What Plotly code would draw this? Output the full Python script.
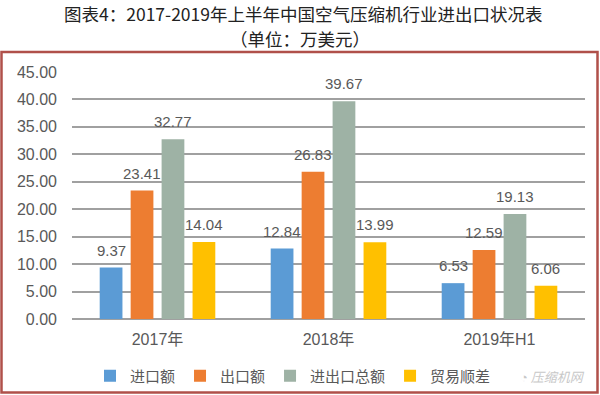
import plotly.graph_objects as go

categories = ["2017年", "2018年", "2019年H1"]
series_names = ["进口额", "出口额", "进出口总额", "贸易顺差"]
import_vals = [9.37, 12.84, 6.53]
export_vals = [23.41, 26.83, 12.59]
total_vals = [32.77, 39.67, 19.13]
surplus_vals = [14.04, 13.99, 6.06]
y_ticks = [0, 5, 10, 15, 20, 25, 30, 35, 40, 45]

series_values = [import_vals, export_vals, total_vals, surplus_vals]
colors = ["#5B9BD5", "#ED7D31", "#9EB2A5", "#FFC000"]

FONT = "Liberation Sans, Noto Sans CJK SC, sans-serif"
TXT = "#595959"

slot = 0.181
bar_w = 0.133
x_idx = list(range(len(categories)))

W, H = 600, 395
ML, MR, MT, MB = 72, 15, 72, 76
plot_h = H - MT - MB
plot_w = W - ML - MR

def py(pix):
    return (H - MB - pix) / plot_h

def px(pix):
    return (pix - ML) / plot_w

fig = go.Figure()
annotations = []
for i, (name, vals, col) in enumerate(zip(series_names, series_values, colors)):
    off = -2 * slot + (slot - bar_w) / 2 + i * slot
    fig.add_trace(go.Bar(
        x=x_idx, y=vals, name=name, marker=dict(color=col, line=dict(width=0)),
        offset=off, width=bar_w,
    ))
    for xi, v in zip(x_idx, vals):
        annotations.append(dict(
            x=xi + off + bar_w / 2, y=v, xref="x", yref="y", text=f"{v:.2f}",
            showarrow=False, yanchor="bottom", yshift=7,
            font=dict(family=FONT, size=15, color=TXT),
        ))

fig.update_layout(
    width=W, height=H,
    margin=dict(l=ML, r=MR, t=MT, b=MB, autoexpand=False),
    paper_bgcolor="white", plot_bgcolor="white",
    barmode="overlay",
    showlegend=True,
    legend=dict(orientation="h", x=px(293), xanchor="center", y=py(376), yanchor="middle",
                font=dict(family=FONT, size=15, color=TXT), bgcolor="rgba(0,0,0,0)",
                itemwidth=30, tracegroupgap=0),
    xaxis=dict(range=[-0.5, 2.5], tickvals=x_idx, ticktext=categories, showgrid=False,
               zeroline=False, showline=False, ticks="", automargin=False,
               ticklabelstandoff=9,
               tickfont=dict(family=FONT, size=16, color=TXT)),
    yaxis=dict(range=[0, 45], tickvals=y_ticks, tickformat=".2f", showgrid=True,
               gridcolor="#A0A0A0", gridwidth=1.5, zeroline=True, zerolinecolor="#A0A0A0",
               zerolinewidth=1.5, showline=False, ticks="", ticklabelstandoff=14,
               automargin=False,
               tickfont=dict(family=FONT, size=16, color=TXT)),
    annotations=annotations,
)

TITLE_FONT = dict(family="Noto Sans CJK SC, sans-serif", size=17.5, color="#222222")
fig.add_annotation(x=px(303), y=py(13), xref="paper", yref="paper", showarrow=False,
                   text="图表4：2017-2019年上半年中国空气压缩机行业进出口状况表",
                   font=TITLE_FONT, xanchor="center", yanchor="middle")
fig.add_annotation(x=px(300), y=py(38), xref="paper", yref="paper", showarrow=False,
                   text="（单位：万美元）",
                   font=TITLE_FONT, xanchor="center", yanchor="middle")
fig.add_annotation(x=px(552), y=py(376), xref="paper", yref="paper", showarrow=False,
                   text="<i>◔ 压缩机网</i>",
                   font=dict(family="Noto Sans CJK SC, sans-serif", size=13, color="#C8C8C8"),
                   xanchor="center", yanchor="middle")

fig.add_shape(type="rect", xref="paper", yref="paper",
              x0=px(1.5), x1=px(597.5), y0=py(392.5), y1=py(52),
              line=dict(color="#B0504A", width=2.5), fillcolor="rgba(0,0,0,0)", layer="below")

fig.write_html("out.html", config={"displayModeBar": False},
               post_script="document.body.style.margin='0px';")
